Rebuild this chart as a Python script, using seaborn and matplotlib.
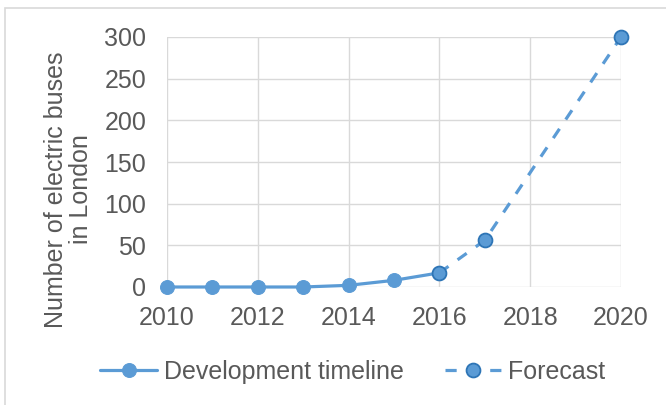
import pandas as pd
import matplotlib.pyplot as plt
import seaborn as sns
from matplotlib.patches import Rectangle

# Data
dev_years = [2010, 2011, 2012, 2013, 2014, 2015, 2016]
dev_buses = [0, 0, 0, 0, 2, 8, 17]
fc_years = [2016, 2017, 2020]
fc_buses = [17, 56, 300]
x_ticks = [2010, 2012, 2014, 2016, 2018, 2020]
y_ticks = [0, 50, 100, 150, 200, 250, 300]

BLUE = "#5b9bd5"
EDGE = "#2e75b6"
TEXT = "#595959"

sns.set_style("white")
plt.rcParams['font.family'] = ['Liberation Sans', 'DejaVu Sans']

dev = pd.DataFrame({"year": dev_years, "buses": dev_buses})
fc = pd.DataFrame({"year": fc_years, "buses": fc_buses})

fig = plt.figure(figsize=(6.66, 4.05), dpi=100)
# light frame around the chart area
fig.patches.append(Rectangle((5 / 666, -0.1), 1.2, 1 - 8 / 405 + 0.1,
                             transform=fig.transFigure, fill=False,
                             edgecolor="#d9d9d9", linewidth=1.2))

ax = fig.add_axes([167 / 666, 1 - 287 / 405, (621 - 167) / 666, (287 - 37) / 405])

sns.lineplot(data=dev, x="year", y="buses", ax=ax, color=BLUE, linewidth=2.3,
             marker="o", markersize=10, markeredgecolor=BLUE,
             label="Development timeline", zorder=3, clip_on=False)
sns.lineplot(data=fc, x="year", y="buses", ax=ax, color=BLUE, linewidth=2.3,
             linestyle=(0, (3.5, 3.5)), marker="o", markersize=10,
             markeredgecolor=EDGE, markeredgewidth=1.3,
             label="Forecast", zorder=4, clip_on=False)

ax.set_xlim(2010, 2020)
ax.set_ylim(0, 300)
ax.set_xticks(x_ticks)
ax.set_yticks(y_ticks)
ax.grid(True, color="#d9d9d9", linewidth=1)
for s in ax.spines.values():
    s.set_visible(False)
ax.tick_params(axis="both", length=0, labelsize=18, labelcolor=TEXT)
ax.tick_params(axis="y", pad=15)
ax.tick_params(axis="x", pad=14)

ax.set_xlabel("")
ax.set_ylabel("Number of electric buses\nin London", fontsize=18, color=TEXT,
              linespacing=1.05)
ax.yaxis.set_label_coords(-0.163, 0.39)

leg = ax.legend(loc="center", bbox_to_anchor=(0.409, (287 - 372) / 250),
                ncol=2, frameon=False, fontsize=18, handlelength=2.3,
                columnspacing=1.65, handletextpad=0.25)
for t in leg.get_texts():
    t.set_color(TEXT)

plt.savefig("out.png", dpi=100)
